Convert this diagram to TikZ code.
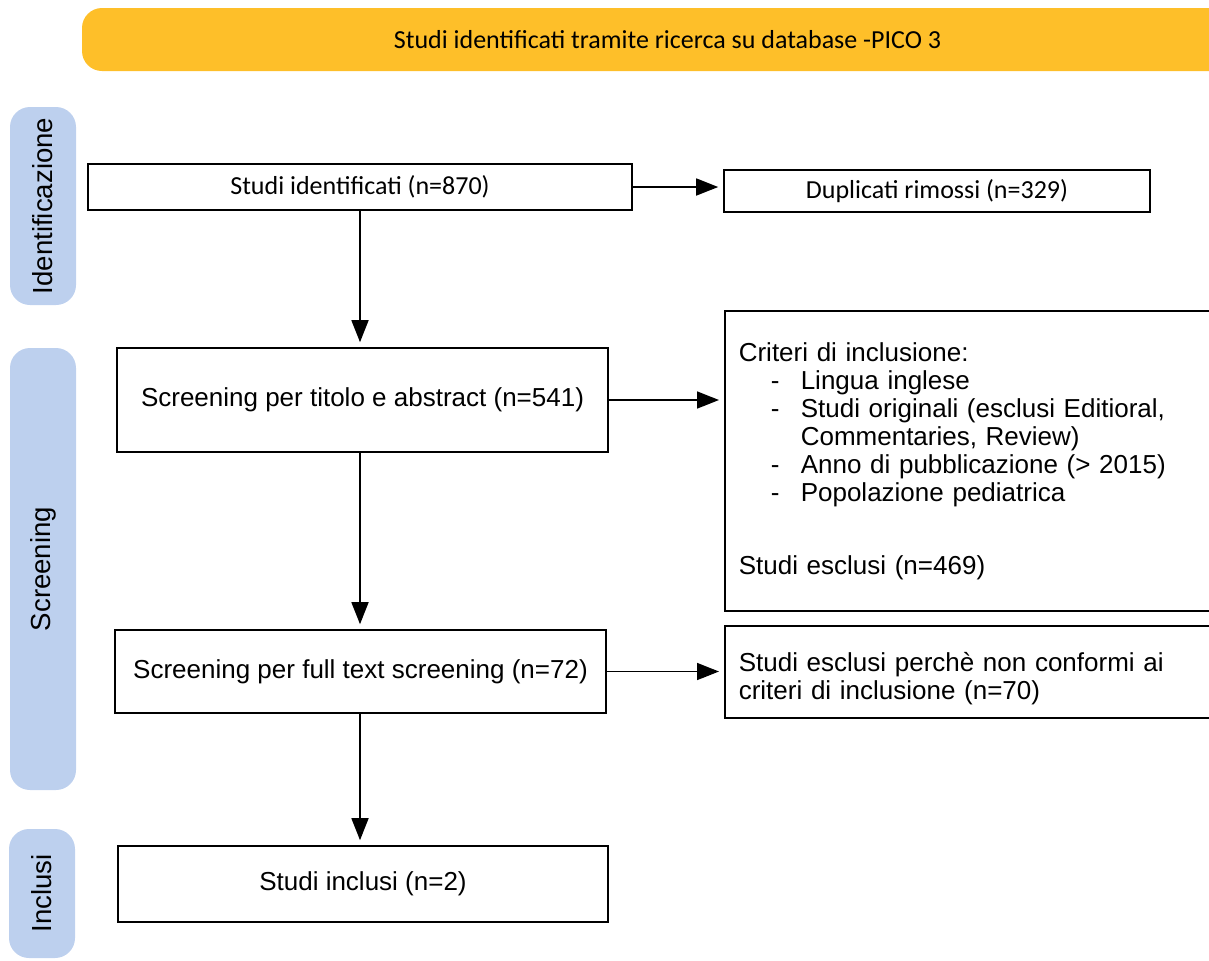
\documentclass[tikz,border=0pt]{standalone}
\usepackage{fontspec}
\setmainfont{Liberation Sans}
\newfontfamily\calibrifont{Carlito}
\usetikzlibrary{arrows.meta, positioning}
\definecolor{bannerorange}{RGB}{254, 191, 41}
\definecolor{phaseblue}{RGB}{189, 208, 238}

\begin{document}
\begin{tikzpicture}[
    x=0.5pt, y=-0.5pt,
    font=\fontsize{13}{14}\selectfont,
    box/.style={rectangle, draw=black, line width=0.8pt, inner sep=0pt, align=center},
    calbox/.style={box, font=\calibrifont\fontsize{13}{14}\selectfont},
    listbox/.style={box, anchor=north west, align=left, inner xsep=7pt, text width=234pt},
    phase/.style={rectangle, fill=phaseblue, rounded corners=10pt, rotate=90, minimum height=33pt, inner sep=0pt, font=\fontsize{13.8}{14}\selectfont},
    line/.style={draw, -{Triangle[length=11pt, width=8.5pt]}, line width=0.8pt, shorten >=2.5pt}
  ]
    \useasboundingbox (0,0) rectangle (1209,960);
    \clip (0,0) rectangle (1209,960);

    % banner and phases
    \node (banner) [rectangle, fill=bannerorange, rounded corners=10pt, minimum width=585.5pt, minimum height=31.5pt, font=\calibrifont\fontsize{13}{14}\selectfont] at (667.5,39.5) {Studi identificati tramite ricerca su database -PICO 3};
    \node (phaseid) [phase, minimum width=99pt] at (43,206) {Identificazione};
    \node (phasescr) [phase, minimum width=221pt] at (43,569) {Screening};
    \node (phaseinc) [phase, minimum width=64.5pt] at (42,893.5) {Inclusi};

    % flow boxes
    \node (studi) [calbox, minimum width=272pt, minimum height=23pt] at (360,187) {Studi identificati (n=870)};
    \node (dup) [calbox, minimum width=213pt, minimum height=21pt] at (937,191) {Duplicati rimossi (n=329)};
    \node (titolo) [box, minimum width=245.5pt, minimum height=52pt] at (362.5,400) {Screening per titolo e abstract (n=541)};
    \node (criteri) [listbox, minimum height=150pt] at (724,310) {Criteri di inclusione:\\
      \hspace*{16pt}\makebox[15pt][l]{-}Lingua inglese\\
      \hspace*{16pt}\makebox[15pt][l]{-}Studi originali (esclusi Editioral,\\
      \hspace*{31pt}Commentaries, Review)\\
      \hspace*{16pt}\makebox[15pt][l]{-}Anno di pubblicazione (> 2015)\\
      \hspace*{16pt}\makebox[15pt][l]{-}Popolazione pediatrica\\[22.5pt]
      Studi esclusi (n=469)};
    \node (fulltext) [box, minimum width=245.5pt, minimum height=41.5pt] at (360.5,671.5) {Screening per full text screening (n=72)};
    \node (esclusi) [listbox, minimum height=46pt] at (724,625) {\rule{0pt}{16.5pt}Studi esclusi perchè non conformi ai\\criteri di inclusione (n=70)};
    \node (inclusi) [box, minimum width=245pt, minimum height=38pt] at (363,884) {Studi inclusi (n=2)};

    \draw[line] (studi.east) -- (studi.east -| dup.west);
    \draw[line] (studi.south) -- (studi.south |- titolo.north);
    \draw[line] (titolo.east) -- (titolo.east -| criteri.west);
    \draw[line] (titolo.south -| studi.south) -- (fulltext.north -| studi.south);
    \draw[line] (fulltext.east) -- (fulltext.east -| esclusi.west);
    \draw[line] (fulltext.south -| studi.south) -- (inclusi.north -| studi.south);
  \end{tikzpicture}
\end{document}
